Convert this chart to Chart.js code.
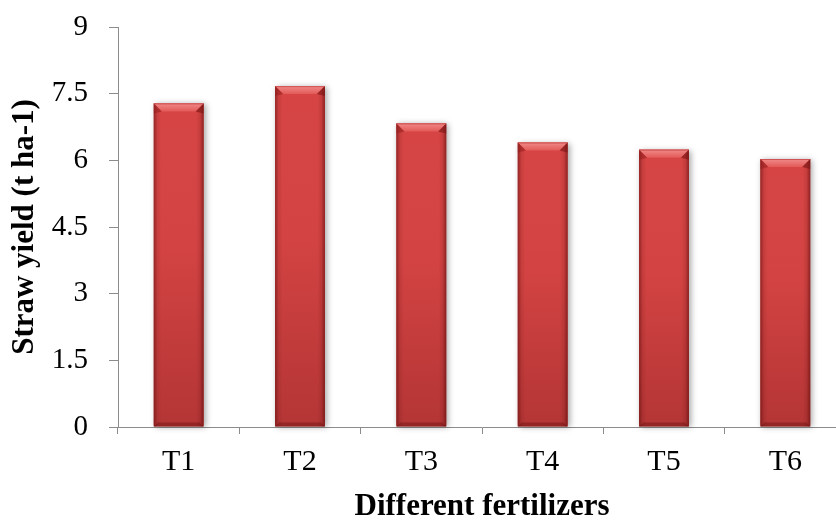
<!DOCTYPE html>
<html>
<head>
<meta charset="utf-8">
<script src="https://cdn.jsdelivr.net/npm/chart.js@4.4.0/dist/chart.umd.min.js"></script>
<style>
  html, body { margin: 0; padding: 0; background: #ffffff; overflow: hidden; }
  #wrap { width: 836px; height: 520px; position: relative; overflow: hidden; }
  #c { display: block; }
</style>
</head>
<body>
<div id="wrap"><canvas id="c" width="846" height="520"></canvas></div>
<script>
const categories = ['T1', 'T2', 'T3', 'T4', 'T5', 'T6'];
const strawYield = [7.28, 7.67, 6.83, 6.40, 6.24, 6.03];
const yTickValues = [0, 1.5, 3, 4.5, 6, 7.5, 9];
const yAxisTitle = 'Straw yield (t ha-1)';
const xAxisTitle = 'Different fertilizers';

const SERIF = '"Liberation Serif", "Times New Roman", "DejaVu Serif", serif';
const AXIS_GREY = '#8c8c8c';

const bevelPlugin = {
  id: 'bevel',
  beforeDatasetsDraw(chart) {
    const ctx = chart.ctx;
    const meta = chart.getDatasetMeta(0);
    ctx.save();
    meta.data.forEach(el => {
      const p = el.getProps(['x', 'y', 'base', 'width'], true);
      const x0 = p.x - p.width / 2;
      ctx.shadowColor = 'rgba(0,0,0,0.35)';
      ctx.shadowBlur = 6;
      ctx.shadowOffsetX = 2;
      ctx.shadowOffsetY = 1;
      ctx.fillStyle = '#b33535';
      ctx.fillRect(x0, p.y, p.width, p.base - p.y - 1);
    });
    ctx.restore();
  },
  afterDatasetsDraw(chart) {
    const ctx = chart.ctx;
    const meta = chart.getDatasetMeta(0);
    ctx.save();
    meta.data.forEach(el => {
      const p = el.getProps(['x', 'y', 'base', 'width'], true);
      const x0 = p.x - p.width / 2, x1 = p.x + p.width / 2;
      const top = p.y, bot = p.base;
      const h = bot - top;
      let g = ctx.createLinearGradient(0, top, 0, bot);
      g.addColorStop(0, 'rgba(255,255,255,0)');
      g.addColorStop(0.45, 'rgba(60,0,0,0.02)');
      g.addColorStop(1, 'rgba(60,0,0,0.22)');
      ctx.fillStyle = g;
      ctx.fillRect(x0, top, p.width, h);
      g = ctx.createLinearGradient(x0, 0, x1, 0);
      g.addColorStop(0, 'rgba(70,0,0,0.45)');
      g.addColorStop(0.07, 'rgba(70,0,0,0.10)');
      g.addColorStop(0.15, 'rgba(70,0,0,0)');
      g.addColorStop(0.85, 'rgba(70,0,0,0)');
      g.addColorStop(0.93, 'rgba(70,0,0,0.12)');
      g.addColorStop(1, 'rgba(70,0,0,0.5)');
      ctx.fillStyle = g;
      ctx.fillRect(x0, top, p.width, h);
      const b = 8;
      ctx.beginPath();
      ctx.moveTo(x0, top); ctx.lineTo(x1, top); ctx.lineTo(x1 - b, top + b); ctx.lineTo(x0 + b, top + b); ctx.closePath();
      g = ctx.createLinearGradient(0, top, 0, top + b);
      g.addColorStop(0, '#f08a88');
      g.addColorStop(1, '#e25a58');
      ctx.fillStyle = g;
      ctx.fill();
      ctx.beginPath();
      ctx.moveTo(x0, top); ctx.lineTo(x0 + b, top + b); ctx.lineTo(x0, top + b + 2); ctx.closePath();
      ctx.fillStyle = 'rgba(150,30,30,0.55)';
      ctx.fill();
      ctx.beginPath();
      ctx.moveTo(x1, top); ctx.lineTo(x1 - b, top + b); ctx.lineTo(x1, top + b + 2); ctx.closePath();
      ctx.fillStyle = 'rgba(120,20,20,0.6)';
      ctx.fill();
      ctx.beginPath();
      ctx.moveTo(x0, bot); ctx.lineTo(x1, bot); ctx.lineTo(x1 - 4, bot - 4); ctx.lineTo(x0 + 4, bot - 4); ctx.closePath();
      ctx.fillStyle = 'rgba(90,10,10,0.35)';
      ctx.fill();
      ctx.strokeStyle = 'rgba(200,70,70,0.8)';
      ctx.lineWidth = 1;
      ctx.beginPath();
      ctx.moveTo(x0, top + 0.5); ctx.lineTo(x1, top + 0.5);
      ctx.stroke();
    });
    ctx.restore();
  }
};

new Chart(document.getElementById('c'), {
  type: 'bar',
  data: {
    labels: categories,
    datasets: [{
      data: strawYield,
      backgroundColor: '#d64444',
      borderWidth: 0,
      categoryPercentage: 1.0,
      barPercentage: 0.41
    }]
  },
  options: {
    responsive: false,
    animation: false,
    events: [],
    layout: { padding: { left: 0, right: 0, top: 27, bottom: 0 } },
    plugins: {
      legend: { display: false },
      tooltip: { enabled: false }
    },
    scales: {
      x: {
        type: 'category',
        offset: true,
        afterFit(scale) { scale.height = 93; scale.paddingLeft = 0; scale.paddingRight = 0; },
        grid: {
          display: true,
          offset: true,
          drawOnChartArea: false,
          drawTicks: true,
          tickLength: 7,
          color: AXIS_GREY,
          lineWidth: 1
        },
        border: { display: true, color: AXIS_GREY, width: 1 },
        ticks: {
          color: '#000',
          font: { family: SERIF, size: 30 },
          padding: 10,
          maxRotation: 0,
          autoSkip: false
        },
        title: {
          display: true,
          text: xAxisTitle,
          color: '#000',
          font: { family: SERIF, size: 31, weight: 'bold', lineHeight: 0.85 },
          padding: { top: 0, bottom: 0 }
        }
      },
      y: {
        min: 0,
        max: 9,
        afterFit(scale) { scale.width = 118; scale.paddingTop = 0; scale.paddingBottom = 0; },
        afterBuildTicks(scale) {
          scale.ticks = yTickValues.map(v => ({ value: v }));
        },
        grid: {
          display: true,
          drawOnChartArea: false,
          drawTicks: true,
          tickLength: 9,
          color: AXIS_GREY,
          lineWidth: 1
        },
        border: { display: true, color: AXIS_GREY, width: 1 },
        ticks: {
          color: '#000',
          font: { family: SERIF, size: 29 },
          padding: 21,
          callback: v => String(v)
        },
        title: {
          display: true,
          text: yAxisTitle,
          color: '#000',
          font: { family: SERIF, size: 31, weight: 'bold', lineHeight: 1.2 },
          padding: { top: 6, bottom: 0 }
        }
      }
    }
  },
  plugins: [bevelPlugin]
});
</script>
</body>
</html>
